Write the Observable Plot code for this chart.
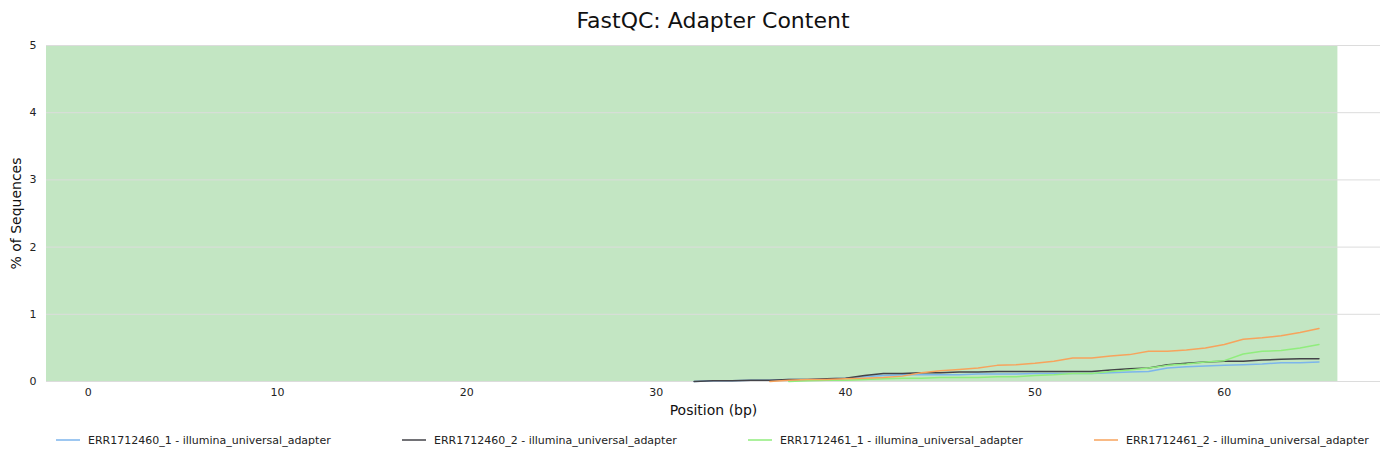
<!DOCTYPE html>
<html><head><meta charset="utf-8">
<script src="https://cdn.jsdelivr.net/npm/d3@7"></script>
<script src="https://cdn.jsdelivr.net/npm/@observablehq/plot@0.6"></script>
<style>
body{margin:0;background:#fff;font-family:"DejaVu Sans",sans-serif;}
#wrap{position:relative;width:1389px;height:460px;overflow:hidden;}
#title{position:absolute;left:46px;top:10px;width:1334px;text-align:center;font-size:22px;line-height:22px;color:#111;}
#chart{position:absolute;left:0;top:40px;}
.item{position:absolute;top:432px;height:16px;line-height:16px;font-size:11px;color:#222;white-space:nowrap;}
.item svg{position:absolute;left:0;top:0;}
.item span{position:absolute;left:32px;top:1px;}
</style>
</head><body>
<div id="wrap">
  <div id="title">FastQC: Adapter Content</div>
  <div id="chart"></div>
  <div id="legend"></div>
</div>
<script>
const titleText = "FastQC: Adapter Content";
const xLabel = "Position (bp)";
const yLabel = "% of Sequences";
const xTicks = [0, 10, 20, 30, 40, 50, 60];
const yTicks = [0, 1, 2, 3, 4, 5];
const seriesNames = [
  "ERR1712460_1 - illumina_universal_adapter",
  "ERR1712460_2 - illumina_universal_adapter",
  "ERR1712461_1 - illumina_universal_adapter",
  "ERR1712461_2 - illumina_universal_adapter"
];
const seriesColors = ["#7cb5ec", "#434348", "#90ed7d", "#f7a35c"];
const positions = [32,33,34,35,36,37,38,39,40,41,42,43,44,45,46,47,48,49,50,51,52,53,54,55,56,57,58,59,60,61,62,63,64,65];
const err1712460_1 = [0.00,0.01,0.01,0.02,0.02,0.03,0.03,0.04,0.05,0.07,0.09,0.10,0.10,0.10,0.10,0.11,0.11,0.11,0.12,0.12,0.12,0.12,0.13,0.14,0.15,0.20,0.22,0.23,0.24,0.25,0.26,0.28,0.28,0.29];
const err1712460_2 = [0.00,0.01,0.01,0.02,0.02,0.03,0.03,0.04,0.05,0.09,0.12,0.12,0.13,0.13,0.14,0.14,0.15,0.15,0.15,0.15,0.15,0.15,0.17,0.19,0.20,0.25,0.27,0.29,0.30,0.30,0.32,0.33,0.34,0.34];
const err1712461_1 = [null,null,null,null,null,0.00,0.01,0.02,0.02,0.03,0.04,0.05,0.05,0.06,0.06,0.06,0.07,0.07,0.09,0.10,0.12,0.12,0.15,0.17,0.20,0.24,0.26,0.29,0.31,0.41,0.45,0.46,0.50,0.55];
const err1712461_2 = [null,null,null,null,0.00,0.02,0.03,0.03,0.04,0.05,0.06,0.08,0.13,0.16,0.18,0.20,0.24,0.25,0.27,0.30,0.35,0.35,0.38,0.40,0.45,0.45,0.47,0.50,0.55,0.63,0.65,0.68,0.73,0.79];
const seriesValues = [err1712460_1, err1712460_2, err1712461_1, err1712461_2];
const xDomain = [-2.2, 68.25];
const yDomain = [0, 5];
const greenBand = {x1: -2.2, x2: 66, y1: 0, y2: 5};

const rows = [];
seriesNames.forEach((name, s) => {
  seriesValues[s].forEach((v, i) => {
    if (v != null) rows.push({series: name, pos: positions[i], value: v});
  });
});

const chart = Plot.plot({
  width: 1389,
  height: 381,
  marginTop: 5,
  marginLeft: 46,
  marginRight: 9,
  marginBottom: 40,
  style: {fontFamily: "DejaVu Sans", fontSize: "11px", color: "#222", background: "transparent", overflow: "visible"},
  x: {domain: xDomain},
  y: {domain: yDomain},
  color: {domain: seriesNames, range: seriesColors},
  marks: [
    Plot.rect([greenBand], {x1: "x1", x2: "x2", y1: "y1", y2: "y2", fill: "#c3e6c3"}),
    Plot.ruleY(yTicks, {stroke: "#dcdcdc", strokeWidth: 1}),
    Plot.line(rows, {x: "pos", y: "value", z: "series", stroke: "series", strokeWidth: 1.5, curve: "linear"}),
    Plot.axisX({ticks: xTicks, tickFormat: d3.format("d"), tickSize: 0, tickPadding: 7, label: null, fontSize: 11}),
    Plot.axisY({ticks: yTicks, tickFormat: d3.format("d"), tickSize: 0, tickPadding: 10, label: null, fontSize: 11}),
    Plot.text([xLabel], {frameAnchor: "bottom", dy: 33, fontSize: 14, fill: "#111"}),
    Plot.text([yLabel], {frameAnchor: "left", textAnchor: "middle", dx: -30, rotate: -90, fontSize: 14, fill: "#111"})
  ]
});
document.getElementById("chart").appendChild(chart);
document.getElementById("title").textContent = titleText;

const legend = document.getElementById("legend");
seriesNames.forEach((name, i) => {
  const div = document.createElement("div");
  div.className = "item";
  div.style.left = (56 + i * 346) + "px";
  div.innerHTML = `<svg width="24" height="16"><line x1="0" x2="24" y1="8" y2="8" stroke="${seriesColors[i]}" stroke-width="1.5"/></svg><span>${name}</span>`;
  legend.appendChild(div);
});
</script>
</body></html>
